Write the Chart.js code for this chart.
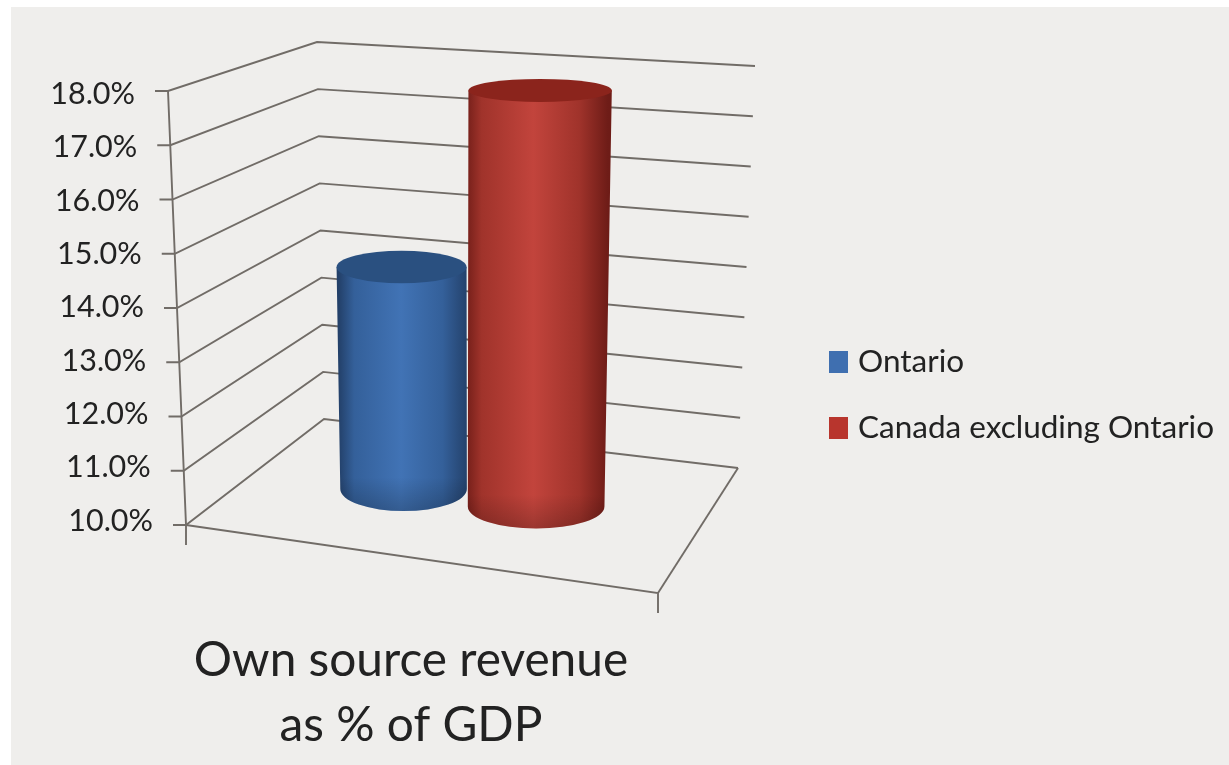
<!DOCTYPE html>
<html>
<head>
<meta charset="utf-8">
<title>Own source revenue as % of GDP</title>
<script src="https://cdn.jsdelivr.net/npm/chart.js@4"></script>
<style>
  html, body { margin: 0; padding: 0; background: #fff; }
  #wrap { position: absolute; left: 0; top: 0; width: 1229px; height: 765px; }
  #wrap::before { content: ""; position: absolute; left: 11px; top: 7px; right: 0; bottom: 0; background: #efeeec; }
  canvas { position: absolute; left: 0; top: 0; }
</style>
</head>
<body>
<div id="wrap"><canvas id="revenueChart" width="1229" height="765"></canvas></div>
<script>
// Chart data
const categories = ["Own source revenue as % of GDP"];
const ontarioValues = [14.3];
const canadaValues = [17.9];
const seriesNames = ["Ontario", "Canada excluding Ontario"];
const seriesColors = ["#3f6fb0", "#b8352d"];
const yTickLabels = ["10.0%", "11.0%", "12.0%", "13.0%", "14.0%", "15.0%", "16.0%", "17.0%", "18.0%"];
const axisLabelLines = ["Own source revenue", "as % of GDP"];

const FONT = "Lato, 'Open Sans', sans-serif";
const LINE_COLOR = "#716c67";
const TEXT_COLOR = "#222222";
const BAR_DEPTH = 0.52;

// Corners of the 3D plot box on screen: floor and top, front and back.
const box = {
  floor: { fl: [186, 525], fr: [658, 593], bl: [324, 419], br: [738, 468] },
  top:   { fl: [168, 91],  fr: [668, 130], bl: [317, 42],  br: [755, 66] }
};

function lerp(a, b, k) { return a + (b - a) * k; }

// u runs along the front edge, d runs front to back, t runs floor to top.
function project(u, d, t) {
  const corner = key => [
    lerp(box.floor[key][0], box.top[key][0], t),
    lerp(box.floor[key][1], box.top[key][1], t)
  ];
  const fl = corner("fl"), fr = corner("fr"), bl = corner("bl"), br = corner("br");
  const at = i => lerp(lerp(fl[i], fr[i], u), lerp(bl[i], br[i], u), d);
  return [at(0), at(1)];
}

function scaleFraction(scale, pixel) {
  return (scale.bottom - pixel) / (scale.bottom - scale.top);
}

function line(ctx, points) {
  ctx.beginPath();
  points.forEach((p, i) => i ? ctx.lineTo(p[0], p[1]) : ctx.moveTo(p[0], p[1]));
  ctx.stroke();
}

// Walls, floor, tick stubs and the tick labels that follow the slanted axis.
const plotBox = {
  id: "plotBox",
  beforeDatasetsDraw(chart) {
    const ctx = chart.ctx;
    const y = chart.scales.y;
    ctx.save();
    ctx.strokeStyle = LINE_COLOR;
    ctx.lineWidth = 1.9;
    line(ctx, [project(0, 0, 1), project(0, 0, 0), [186, 545]]);
    line(ctx, [project(0, 0, 0), project(1, 0, 0), [658, 613]]);
    line(ctx, [project(1, 0, 0), project(1, 1, 0)]);

    ctx.font = "30.5px " + FONT;
    ctx.fillStyle = TEXT_COLOR;
    ctx.textAlign = "right";
    ctx.textBaseline = "middle";
    y.ticks.forEach((tick, i) => {
      const pixel = y.getPixelForTick(i);
      const t = scaleFraction(y, pixel);
      const front = project(0, 0, t);
      line(ctx, [[front[0] - 13, front[1]], front, project(0, 1, t), project(1, 1, t)]);
      ctx.fillText(tick.label, front[0] - 33, pixel + 1);
    });
    ctx.restore();
  },
  // Swatches and names of the series, to the right of the plot
  afterDraw(chart) {
    const ctx = chart.ctx;
    ctx.save();
    ctx.font = "31.5px " + FONT;
    ctx.textBaseline = "middle";
    ctx.textAlign = "left";
    chart.data.datasets.forEach((ds, i) => {
      const rowY = 362 + i * 66;
      ctx.fillStyle = ds.backgroundColor;
      ctx.fillRect(829, rowY - 11, 19, 22);
      ctx.fillStyle = TEXT_COLOR;
      ctx.fillText(ds.label, 858, rowY);
    });
    ctx.restore();
  }
};

function drawCylinder(chart, bar, shades) {
  const ctx = chart.ctx;
  const y = chart.scales.y;
  const x = chart.scales.x;
  const t = scaleFraction(y, bar.y);
  const u = (bar.x - x.left) / x.width - 0.02;
  const base = project(u, BAR_DEPTH, 0);
  const top = project(u, BAR_DEPTH, t);
  const half = bar.width / 2;
  const rxBase = half * (0.852 + 0.247 * u);
  const rxTop = rxBase * (1 + 0.05 * t);
  const ryBase = 22;
  const ryTop = 22 - 10.6 * t;

  const side = ctx.createLinearGradient(base[0] - rxTop, 0, base[0] + rxTop, 0);
  side.addColorStop(0, shades[0]);
  side.addColorStop(0.12, shades[1]);
  side.addColorStop(0.48, shades[2]);
  side.addColorStop(0.8, shades[1]);
  side.addColorStop(1, shades[0]);

  const body = new Path2D();
  body.moveTo(top[0] - rxTop, top[1]);
  body.lineTo(base[0] - rxBase, base[1]);
  body.ellipse(base[0], base[1], rxBase, ryBase, 0, Math.PI, 0, true);
  body.lineTo(top[0] + rxTop, top[1]);
  body.closePath();

  ctx.save();
  ctx.fillStyle = side;
  ctx.fill(body);

  // Darker rim where the cylinder curves away near the floor
  const rim = ctx.createLinearGradient(0, base[1] - 12, 0, base[1] + ryBase);
  rim.addColorStop(0, "rgba(0,0,0,0)");
  rim.addColorStop(1, "rgba(0,0,0,0.2)");
  ctx.fillStyle = rim;
  ctx.fill(body);

  ctx.fillStyle = shades[3];
  ctx.beginPath();
  ctx.ellipse(top[0], top[1], rxTop, ryTop, 0, 0, Math.PI * 2);
  ctx.fill();
  ctx.restore();
}

// Replaces the flat bars with shaded cylinders; series drawn left to right so the taller one overlaps.
const cylinders = {
  id: "cylinders",
  beforeDatasetDraw() {
    return false;
  },
  afterDatasetsDraw(chart) {
    chart.data.datasets.forEach((ds, i) => {
      chart.getDatasetMeta(i).data.forEach(bar => drawCylinder(chart, bar, ds.shades));
    });
  }
};

new Chart(document.getElementById("revenueChart"), {
  type: "bar",
  data: {
    labels: categories,
    datasets: [
      { label: seriesNames[0], data: ontarioValues, backgroundColor: seriesColors[0],
        shades: ["#234069", "#34609a", "#4173b5", "#2a5080"] },
      { label: seriesNames[1], data: canadaValues, backgroundColor: seriesColors[1],
        shades: ["#6e1c17", "#a0332b", "#c2443c", "#8b241c"] }
    ]
  },
  plugins: [plotBox, cylinders],
  options: {
    responsive: false,
    animation: false,
    layout: { padding: { left: 177, right: 592, top: 93, bottom: 7 } },
    datasets: { bar: { barPercentage: 1, categoryPercentage: 0.6 } },
    plugins: { legend: { display: false }, tooltip: { enabled: false }, title: { display: false } },
    scales: {
      x: {
        grid: { display: false },
        border: { display: false },
        ticks: { display: false },
        title: {
          display: true,
          text: axisLabelLines,
          color: TEXT_COLOR,
          font: { family: FONT, size: 47.8, lineHeight: 1.36 },
          padding: { top: 100, bottom: 0 }
        }
      },
      y: {
        min: 10,
        max: 18,
        grid: { display: false },
        border: { display: false },
        ticks: {
          display: false,
          stepSize: 1,
          callback: (value, i) => yTickLabels[i]
        }
      }
    }
  }
});
</script>
</body>
</html>
